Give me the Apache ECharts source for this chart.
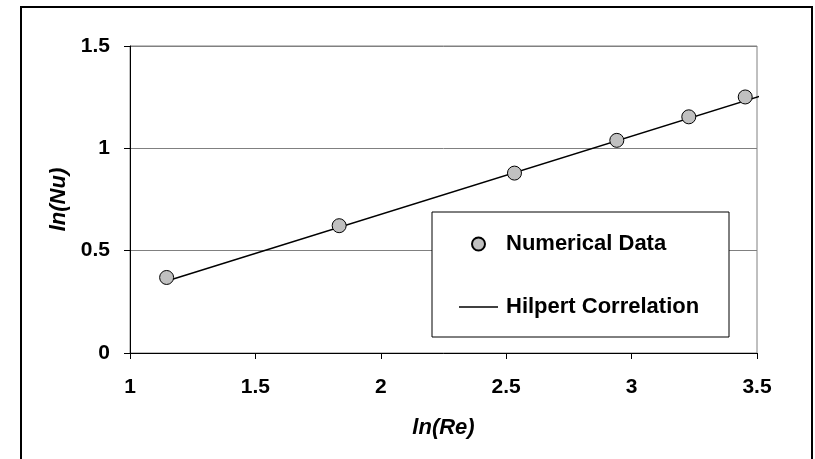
<!DOCTYPE html>
<html>
<head>
<meta charset="utf-8">
<script src="https://cdn.jsdelivr.net/npm/echarts@6/dist/echarts.min.js"></script>
<style>
  html, body { margin: 0; padding: 0; background: #fff; }
  #chart { width: 815px; height: 459px; }
</style>
</head>
<body>
<div id="chart"></div>
<script>
// Numerical results: ln(Re) vs ln(Nu)
const lnRe = [1.146, 1.834, 2.533, 2.941, 3.228, 3.453];
const lnNu = [0.369, 0.622, 0.879, 1.039, 1.154, 1.251];

// Hilpert correlation line endpoints
const corrX = [1.15, 3.545];
const corrY = [0.353, 1.267];

const xTicks = [1, 1.5, 2, 2.5, 3, 3.5];
const yTicks = [0, 0.5, 1, 1.5];

const FONT = 'Arial, "Liberation Sans", sans-serif';

const chart = echarts.init(document.getElementById('chart'), null, { renderer: 'canvas' });

const pts = lnRe.map((x, i) => [x, lnNu[i]]);
const corr = corrX.map((x, i) => [x, corrY[i]]);

chart.setOption({
  backgroundColor: '#fff',
  animation: false,
  grid: {
    left: 130, right: 58, top: 46, bottom: 106,
    show: true, borderColor: '#808080', borderWidth: 1
  },
  xAxis: {
    type: 'value',
    min: xTicks[0], max: xTicks[xTicks.length - 1], interval: 0.5,
    name: 'ln(Re)', nameLocation: 'middle', nameGap: 64,
    nameTextStyle: { fontFamily: FONT, fontSize: 22, fontWeight: 'bold', fontStyle: 'italic', color: '#000' },
    axisLine: { lineStyle: { color: '#000', width: 1 } },
    axisTick: { show: true, inside: false, length: 6, lineStyle: { color: '#000' } },
    axisLabel: { fontFamily: FONT, fontSize: 21, fontWeight: 'bold', color: '#000', margin: 24 },
    splitLine: { show: false }
  },
  yAxis: {
    type: 'value',
    min: yTicks[0], max: yTicks[yTicks.length - 1], interval: 0.5,
    name: 'ln(Nu)', nameLocation: 'middle', nameGap: 60, nameRotate: 90,
    nameTextStyle: { fontFamily: FONT, fontSize: 22, fontWeight: 'bold', fontStyle: 'italic', color: '#000' },
    axisLine: { show: true, lineStyle: { color: '#000', width: 1 } },
    axisTick: { show: true, inside: false, length: 6, lineStyle: { color: '#000' } },
    axisLabel: { fontFamily: FONT, fontSize: 21, fontWeight: 'bold', color: '#000', margin: 20 },
    splitLine: { show: true, lineStyle: { color: '#808080', width: 1 } }
  },
  legend: {
    orient: 'vertical',
    left: 459, top: 233,
    padding: 0,
    itemWidth: 39, itemHeight: 13,
    itemGap: 41,
    z: 10,
    textStyle: { fontFamily: FONT, fontSize: 22, fontWeight: 'bold', color: '#000', padding: [0, 0, 0, 3] },
    data: [
      { name: 'Numerical Data', icon: 'circle' },
      {
        name: 'Hilpert Correlation',
        icon: 'path://M0,0 L39,0 L39,1.3 L0,1.3 Z',
        itemStyle: { color: '#000', borderWidth: 0 }
      }
    ]
  },
  graphic: [
    {
      type: 'rect', z: 5,
      shape: { x: 432, y: 212, width: 297, height: 125 },
      style: { fill: '#fff', stroke: '#000', lineWidth: 1 }
    },
    {
      type: 'rect', z: 5,
      shape: { x: 21, y: 7, width: 791, height: 480 },
      style: { fill: 'none', stroke: '#000', lineWidth: 2 }
    }
  ],
  series: [
    {
      name: 'Hilpert Correlation',
      type: 'line',
      data: corr,
      symbol: 'none',
      clip: false,
      z: 2,
      lineStyle: { color: '#000', width: 1.4 },
      itemStyle: { color: '#000' }
    },
    {
      name: 'Numerical Data',
      type: 'scatter',
      data: pts,
      symbol: 'circle',
      symbolSize: 14,
      z: 3,
      itemStyle: { color: '#c0c0c0', borderColor: '#000', borderWidth: 1, opacity: 1 }
    }
  ]
});
</script>
</body>
</html>
